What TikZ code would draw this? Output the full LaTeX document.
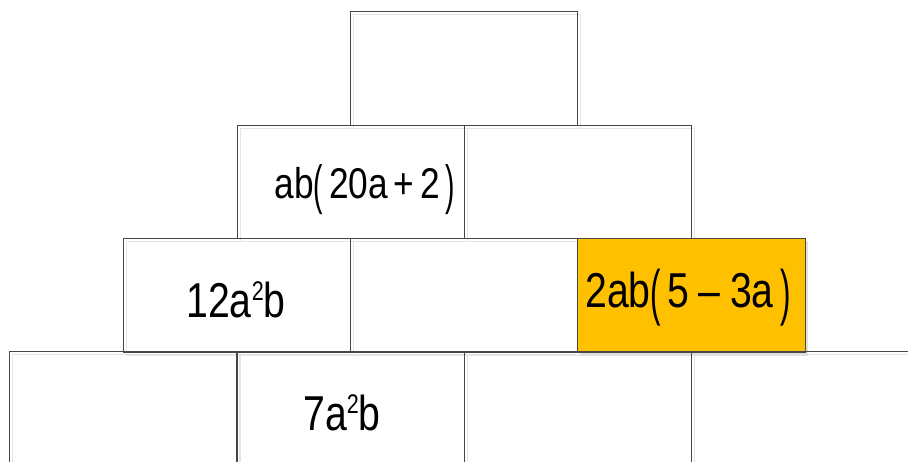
\documentclass[tikz,border=0pt]{standalone}
\usepackage{fontspec}
\setmainfont{Liberation Sans}
\usepackage{graphicx}
\definecolor{boxorange}{HTML}{FFC000}
\tikzset{
  cell/.style={draw=black!72, line width=0.8pt, rectangle, inner sep=0pt, outer sep=0pt,
    minimum width=227pt, minimum height=113.5pt},
  shadowcell/.style={draw=black!10, line width=0.7pt, rectangle, inner sep=0pt, outer sep=0pt,
    minimum width=227pt, minimum height=113.5pt},
  lbl/.style={inner sep=0pt, outer sep=0pt, anchor=center},
}
\newcommand{\supii}{\raisebox{0.36em}{\scalebox{0.55}{2}}}
\newcommand{\tallp}[1]{\raisebox{-0.12em}{\scalebox{0.8}[1.25]{#1}}}
\newcommand{\eqtxt}[3]{\scalebox{#2}[1]{\fontsize{#1}{#1}\selectfont #3}}
\newcommand{\opsp}{\hspace{0.24em}}
\begin{document}
\begin{tikzpicture}[x=1pt,y=-1pt]
\useasboundingbox (0,0) rectangle (908,461);
\clip (0,0) rectangle (908,461);
% shadows
\foreach \cx/\cy [count=\i] in {463.5/68.5, 350.5/182, 577.5/182, 236.5/295.5, 463.5/295.5,
   123/408.5, 350.5/408.5, 577.5/408.5, 805/408.5}
  \node[shadowcell] (sh\i) at (\cx+3,\cy+3) {};
\node[cell, fill=black!12, draw=black!12] (shorange) at (694,298.5) {};
% boxes
\node[cell] (top) at (463.5,68.5) {};
\node[cell] (r2a) at (350.5,182) {};
\node[cell] (r2b) at (577.5,182) {};
\node[cell] (r3a) at (236.5,295.5) {};
\node[cell] (r3b) at (463.5,295.5) {};
\node[cell, fill=boxorange, minimum width=228pt] (r3c) at (691,295.5) {};
\node[cell] (r4a) at (123,408.5) {};
\node[cell] (r4b) at (350.5,408.5) {};
\node[cell] (r4c) at (577.5,408.5) {};
\node[cell] (r4d) at (804.5,408.5) {};
% labels
\node[lbl] (l1) at (365,190) {\eqtxt{43pt}{0.82}{ab\tallp{(}\,20a\,+\,2\,\tallp{)}}};
\node[lbl] (l2) at (236,300) {\eqtxt{49pt}{0.8}{12a\supii b}};
\node[lbl] (l3) at (688,298) {\eqtxt{49pt}{0.8}{2ab\tallp{(}\,5\opsp–\opsp3a\,\tallp{)}}};
\node[lbl] (l4) at (342,413) {\eqtxt{49pt}{0.8}{7a\supii b}};
\end{tikzpicture}
\end{document}
